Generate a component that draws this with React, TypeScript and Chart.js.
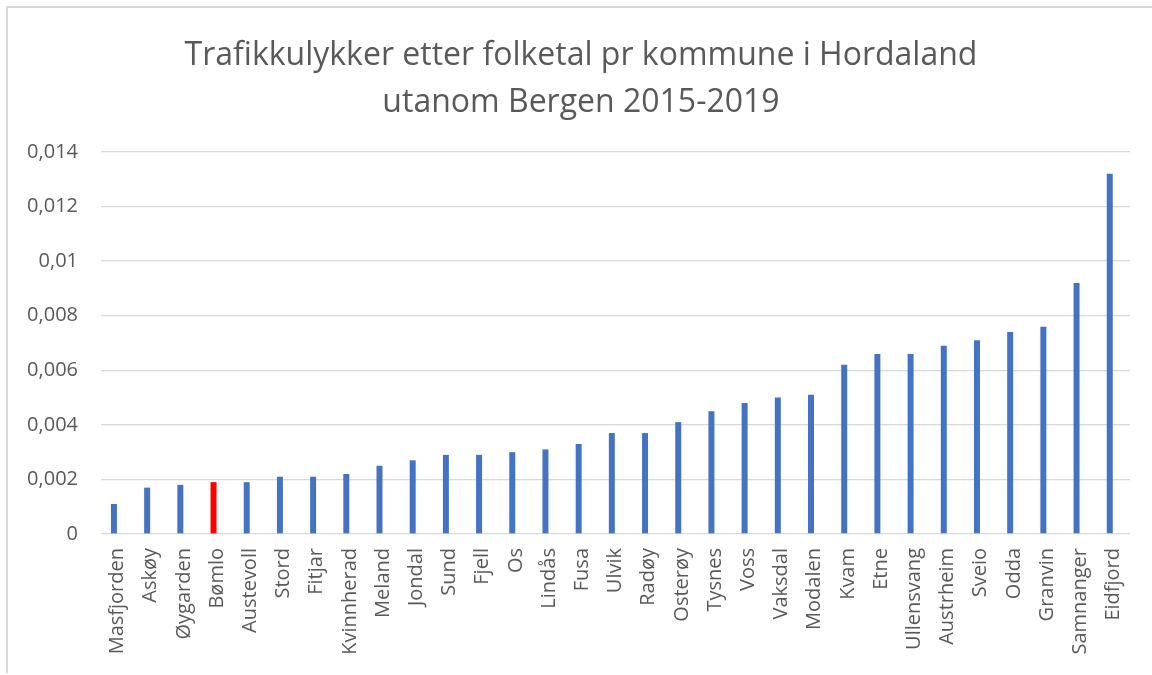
import React, { useEffect, useRef } from "react";
import { Chart, registerables } from "chart.js";

Chart.register(...registerables);

const categories = [
  "Masfjorden", "Askøy", "Øygarden", "Bømlo", "Austevoll", "Stord", "Fitjar",
  "Kvinnherad", "Meland", "Jondal", "Sund", "Fjell", "Os", "Lindås", "Fusa",
  "Ulvik", "Radøy", "Osterøy", "Tysnes", "Voss", "Vaksdal", "Modalen", "Kvam",
  "Etne", "Ullensvang", "Austrheim", "Sveio", "Odda", "Granvin", "Samnanger", "Eidfjord",
];

const values = [
  0.0011, 0.0017, 0.0018, 0.0019, 0.0019, 0.0021, 0.0021,
  0.0022, 0.0025, 0.0027, 0.0029, 0.0029, 0.0030, 0.0031, 0.0033,
  0.0037, 0.0037, 0.0041, 0.0045, 0.0048, 0.0050, 0.0051, 0.0062,
  0.0066, 0.0066, 0.0069, 0.0071, 0.0074, 0.0076, 0.0092, 0.0132,
];

const highlightCategory = "Bømlo";

const yTickLabels = ["0", "0,002", "0,004", "0,006", "0,008", "0,01", "0,012", "0,014"];

const titleLines = [
  "Trafikkulykker etter folketal pr kommune i Hordaland",
  "utanom Bergen 2015-2019",
];

const BLUE = "#4472C4";
const RED = "#FF0000";
const TEXT = "#595959";
const GRID = "#d9d9d9";
const FONT = "'Open Sans', sans-serif";

export default function App() {
  const ref = useRef<HTMLCanvasElement>(null);

  useEffect(() => {
    const colors = categories.map((c) => (c === highlightCategory ? RED : BLUE));
    const chart = new Chart(ref.current as HTMLCanvasElement, {
      type: "bar",
      data: {
        labels: categories,
        datasets: [
          {
            label: "Trafikkulykker per innbyggjar",
            data: values,
            backgroundColor: colors,
            borderWidth: 0,
            categoryPercentage: 0.44,
            barPercentage: 0.82,
          },
          {
            label: "",
            data: [],
            backgroundColor: BLUE,
            borderWidth: 0,
            categoryPercentage: 0.44,
            barPercentage: 0.82,
          },
        ],
      },
      options: {
        animation: false,
        responsive: false,
        devicePixelRatio: 1,
        layout: { padding: { left: 0, right: 22, top: 152, bottom: 0 } },
        plugins: {
          legend: { display: false },
          tooltip: { enabled: false },
          title: { display: false },
        },
        scales: {
          x: {
            grid: { display: false, drawTicks: false },
            border: { display: false },
            ticks: {
              color: TEXT,
              font: { family: FONT, size: 20 },
              minRotation: 90,
              maxRotation: 90,
              autoSkip: false,
              padding: 14,
            },
            afterFit: (scale: any) => {
              scale.height = 141;
            },
          },
          y: {
            min: 0,
            max: 0.014,
            grid: { color: GRID, lineWidth: 1.3, drawTicks: false },
            border: { display: false },
            ticks: {
              stepSize: 0.002,
              color: TEXT,
              font: { family: FONT, size: 20 },
              padding: 23,
              callback: (_v: any, i: number) => yTickLabels[i],
            },
            afterFit: (scale: any) => {
              scale.width = 101;
            },
          },
        },
      },
    });
    return () => chart.destroy();
  }, []);

  return (
    <div
      style={{
        position: "fixed",
        left: 0,
        top: 0,
        width: 1152,
        height: 675,
        background: "#fff",
        overflow: "hidden",
      }}
    >
      <div
        style={{
          position: "absolute",
          left: 6,
          top: 6,
          width: 1200,
          height: 667,
          borderTop: `2px solid ${GRID}`,
          borderLeft: `2px solid ${GRID}`,
          boxSizing: "border-box",
        }}
      />
      <canvas
        ref={ref}
        width={1152}
        height={675}
        style={{ position: "absolute", left: 0, top: 0, width: 1152, height: 675 }}
      />
      <div
        style={{
          position: "absolute",
          left: 6,
          top: 29,
          width: 1150,
          textAlign: "center",
          fontFamily: FONT,
          fontSize: 32,
          lineHeight: "47px",
          color: TEXT,
          whiteSpace: "nowrap",
        }}
      >
        {titleLines.map((line) => (
          <div key={line}>{line}</div>
        ))}
      </div>
    </div>
  );
}
